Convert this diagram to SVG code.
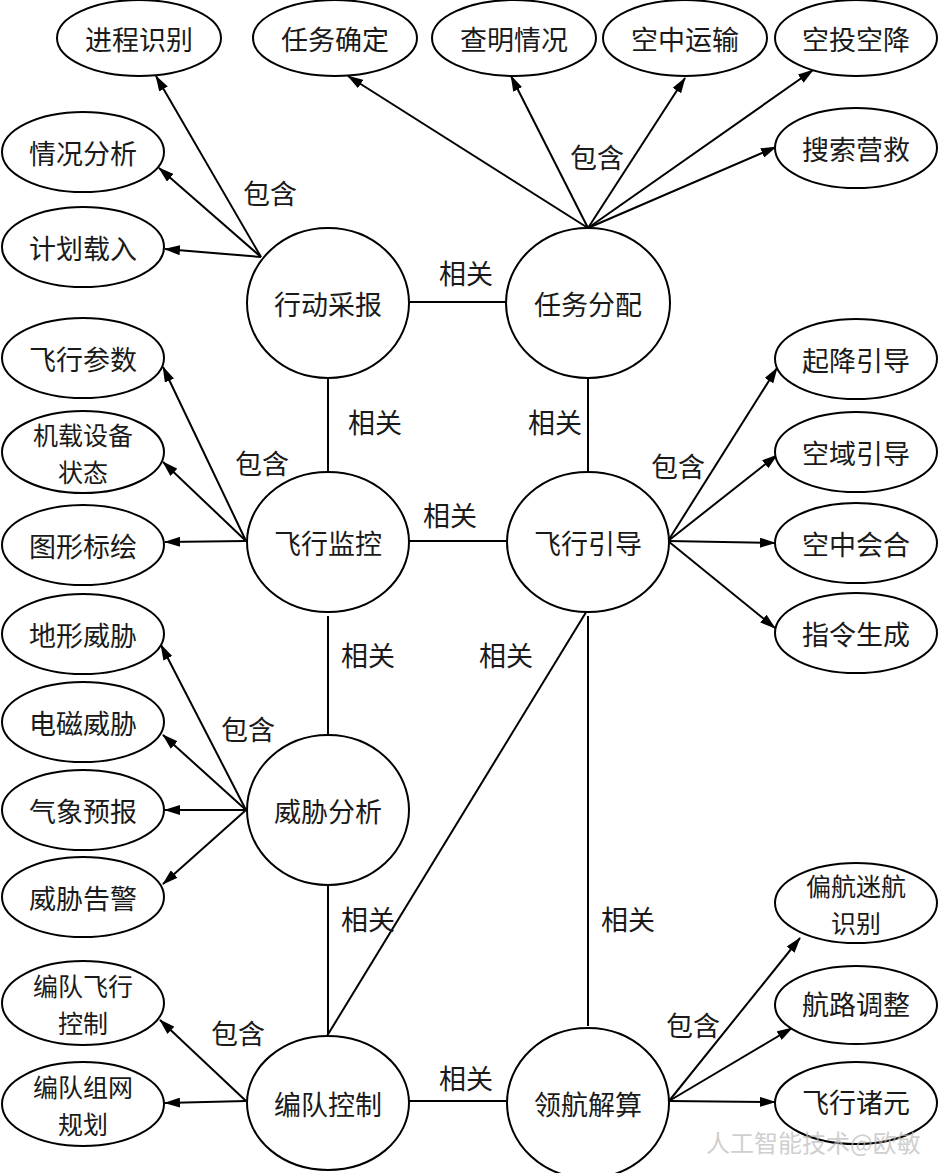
<svg xmlns="http://www.w3.org/2000/svg" width="939" height="1173" viewBox="0 0 939 1173">
<defs>
<style>
.n{fill:#fff;stroke:#000;stroke-width:2}
.t{font-family:"Noto Sans CJK SC","Noto Sans CJK JP",sans-serif;font-size:27px;fill:#1a1a1a;text-anchor:middle;dominant-baseline:central}
.t2{font-size:25px}
.l{stroke:#000;stroke-width:2;fill:none}
.a{stroke:#000;stroke-width:2;fill:none;marker-end:url(#ah)}
.w{font-family:"Noto Sans CJK SC",sans-serif;font-size:24px;fill:#bbb;opacity:0.7}
</style>
<marker id="ah" viewBox="0 0 16 10" refX="15" refY="5" markerWidth="16" markerHeight="10" markerUnits="userSpaceOnUse" orient="auto">
<path d="M0,0 L16,5 L0,10 z" fill="#000"/>
</marker>
</defs>
<rect width="939" height="1173" fill="#fff"/>
<g id="connectors">
<line class="l" x1="410" y1="302" x2="506" y2="302"/>
<line class="l" x1="328" y1="378" x2="328" y2="472"/>
<line class="l" x1="588" y1="378" x2="588" y2="472"/>
<line class="l" x1="408" y1="541" x2="506" y2="541"/>
<line class="l" x1="328" y1="616" x2="328" y2="735"/>
<line class="l" x1="588" y1="609" x2="327" y2="1036"/>
<line class="l" x1="328" y1="885" x2="328" y2="1036"/>
<line class="l" x1="588" y1="616" x2="588" y2="1026"/>
<line class="l" x1="408" y1="1101" x2="506" y2="1101"/>
<line class="a" x1="261" y1="257" x2="156" y2="76"/>
<line class="a" x1="261" y1="257" x2="159" y2="168"/>
<line class="a" x1="261" y1="257" x2="165" y2="249"/>
<line class="a" x1="588" y1="228" x2="348" y2="76"/>
<line class="a" x1="588" y1="228" x2="511" y2="76"/>
<line class="a" x1="588" y1="228" x2="685" y2="78"/>
<line class="a" x1="588" y1="228" x2="813" y2="70"/>
<line class="a" x1="588" y1="228" x2="776" y2="147"/>
<line class="a" x1="246" y1="541" x2="163" y2="367"/>
<line class="a" x1="246" y1="541" x2="163" y2="462"/>
<line class="a" x1="246" y1="541" x2="165" y2="542"/>
<line class="a" x1="668" y1="541" x2="777" y2="368"/>
<line class="a" x1="668" y1="541" x2="777" y2="455"/>
<line class="a" x1="668" y1="541" x2="775" y2="543"/>
<line class="a" x1="668" y1="541" x2="775" y2="628"/>
<line class="a" x1="246" y1="810" x2="161" y2="645"/>
<line class="a" x1="246" y1="810" x2="163" y2="735"/>
<line class="a" x1="246" y1="810" x2="165" y2="810"/>
<line class="a" x1="246" y1="810" x2="163" y2="884"/>
<line class="a" x1="246" y1="1101" x2="160" y2="1020"/>
<line class="a" x1="246" y1="1101" x2="165" y2="1103"/>
<line class="a" x1="669" y1="1101" x2="800" y2="938"/>
<line class="a" x1="669" y1="1101" x2="792" y2="1028"/>
<line class="a" x1="669" y1="1101" x2="775" y2="1102"/>
<text class="t" x="270" y="192">包含</text>
<text class="t" x="597" y="156">包含</text>
<text class="t" x="262" y="462">包含</text>
<text class="t" x="678" y="465">包含</text>
<text class="t" x="248" y="728">包含</text>
<text class="t" x="238" y="1032">包含</text>
<text class="t" x="693" y="1024">包含</text>
<text class="t" x="466" y="272">相关</text>
<text class="t" x="375" y="421">相关</text>
<text class="t" x="555" y="421">相关</text>
<text class="t" x="450" y="514">相关</text>
<text class="t" x="368" y="654">相关</text>
<text class="t" x="506" y="654">相关</text>
<text class="t" x="368" y="918">相关</text>
<text class="t" x="628" y="918">相关</text>
<text class="t" x="466" y="1077">相关</text>
</g>
<g id="xingdongcaibao"><ellipse class="n" cx="328" cy="303" rx="81" ry="75"/><text class="t" x="328" y="303">行动采报</text></g>
<g id="renwufenpei"><ellipse class="n" cx="588" cy="303" rx="82" ry="75"/><text class="t" x="588" y="303">任务分配</text></g>
<g id="feixingjiankong"><ellipse class="n" cx="328" cy="542" rx="81" ry="70"/><text class="t" x="328" y="542">飞行监控</text></g>
<g id="feixingyindao"><ellipse class="n" cx="588" cy="542" rx="81" ry="70"/><text class="t" x="588" y="542">飞行引导</text></g>
<g id="weixiefenxi"><ellipse class="n" cx="328" cy="810" rx="81" ry="75"/><text class="t" x="328" y="810">威胁分析</text></g>
<g id="biandui"><ellipse class="n" cx="328" cy="1103" rx="81" ry="67"/><text class="t" x="328" y="1103">编队控制</text></g>
<g id="linghang"><ellipse class="n" cx="588" cy="1103" rx="81" ry="75"/><text class="t" x="588" y="1103">领航解算</text></g>
<g id="jinchengshibie"><ellipse class="n" cx="139" cy="38" rx="82" ry="38"/><text class="t" x="139" y="38">进程识别</text></g>
<g id="renwuqueding"><ellipse class="n" cx="335" cy="38" rx="82" ry="38"/><text class="t" x="335" y="38">任务确定</text></g>
<g id="chaming"><ellipse class="n" cx="514" cy="38" rx="82" ry="38"/><text class="t" x="514" y="38">查明情况</text></g>
<g id="kongzhongyunshu"><ellipse class="n" cx="685" cy="38" rx="82" ry="38"/><text class="t" x="685" y="38">空中运输</text></g>
<g id="kongtou"><ellipse class="n" cx="856" cy="38" rx="81" ry="38"/><text class="t" x="856" y="38">空投空降</text></g>
<g id="sousuo"><ellipse class="n" cx="856" cy="148" rx="81" ry="40"/><text class="t" x="856" y="148">搜索营救</text></g>
<g id="qingkuangfenxi"><ellipse class="n" cx="83" cy="152" rx="81" ry="40"/><text class="t" x="83" y="152">情况分析</text></g>
<g id="jihuazairu"><ellipse class="n" cx="83" cy="247" rx="81" ry="40"/><text class="t" x="83" y="247">计划载入</text></g>
<g id="feixingcanshu"><ellipse class="n" cx="83" cy="358" rx="81" ry="40"/><text class="t" x="83" y="358">飞行参数</text></g>
<g id="jizai"><ellipse class="n" cx="83" cy="452" rx="81" ry="41"/><text class="t t2" x="83" y="434">机载设备</text><text class="t t2" x="83" y="471">状态</text></g>
<g id="tuxing"><ellipse class="n" cx="83" cy="545" rx="81" ry="40"/><text class="t" x="83" y="545">图形标绘</text></g>
<g id="dixing"><ellipse class="n" cx="83" cy="634" rx="81" ry="40"/><text class="t" x="83" y="634">地形威胁</text></g>
<g id="dianci"><ellipse class="n" cx="83" cy="722" rx="81" ry="40"/><text class="t" x="83" y="722">电磁威胁</text></g>
<g id="qixiang"><ellipse class="n" cx="83" cy="810" rx="81" ry="40"/><text class="t" x="83" y="810">气象预报</text></g>
<g id="gaojing"><ellipse class="n" cx="83" cy="897" rx="81" ry="40"/><text class="t" x="83" y="897">威胁告警</text></g>
<g id="biandui1"><ellipse class="n" cx="83" cy="1003" rx="81" ry="42"/><text class="t t2" x="83" y="985">编队飞行</text><text class="t t2" x="83" y="1022">控制</text></g>
<g id="biandui2"><ellipse class="n" cx="83" cy="1104" rx="81" ry="42"/><text class="t t2" x="83" y="1086">编队组网</text><text class="t t2" x="83" y="1123">规划</text></g>
<g id="qijiang"><ellipse class="n" cx="856" cy="359" rx="81" ry="40"/><text class="t" x="856" y="359">起降引导</text></g>
<g id="kongyu"><ellipse class="n" cx="856" cy="452" rx="81" ry="40"/><text class="t" x="856" y="452">空域引导</text></g>
<g id="huihe"><ellipse class="n" cx="856" cy="543" rx="81" ry="40"/><text class="t" x="856" y="543">空中会合</text></g>
<g id="zhiling"><ellipse class="n" cx="856" cy="633" rx="81" ry="40"/><text class="t" x="856" y="633">指令生成</text></g>
<g id="pianhang"><ellipse class="n" cx="856" cy="903" rx="81" ry="40"/><text class="t t2" x="856" y="885">偏航迷航</text><text class="t t2" x="856" y="922">识别</text></g>
<g id="hanglu"><ellipse class="n" cx="856" cy="1005" rx="81" ry="39"/><text class="t" x="856" y="1003">航路调整</text></g>
<g id="zhuyuan"><ellipse class="n" cx="856" cy="1103" rx="81" ry="41"/><text class="t" x="856" y="1101">飞行诸元</text></g>
<text class="w" x="706" y="1152">人工智能技术@欧敏</text>
</svg>
